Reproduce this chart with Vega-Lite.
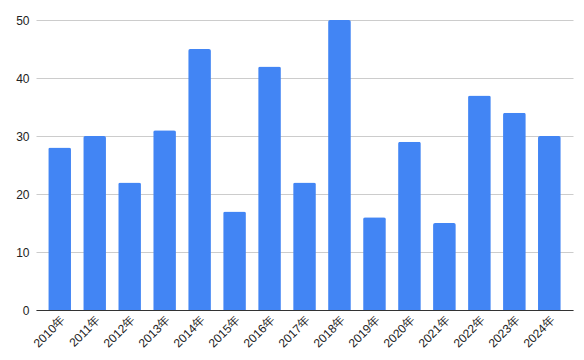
{
  "$schema": "https://vega.github.io/schema/vega-lite/v6.json",
  "autosize": {"type": "none"},
  "padding": {"left": 36, "top": 20, "right": 11, "bottom": 50},
  "width": 537,
  "height": 290,
  "background": "#ffffff",
  "data": {
    "values": [
      {"year": "2010年", "value": 28},
      {"year": "2011年", "value": 30},
      {"year": "2012年", "value": 22},
      {"year": "2013年", "value": 31},
      {"year": "2014年", "value": 45},
      {"year": "2015年", "value": 17},
      {"year": "2016年", "value": 42},
      {"year": "2017年", "value": 22},
      {"year": "2018年", "value": 50},
      {"year": "2019年", "value": 16},
      {"year": "2020年", "value": 29},
      {"year": "2021年", "value": 15},
      {"year": "2022年", "value": 37},
      {"year": "2023年", "value": 34},
      {"year": "2024年", "value": 30}
    ]
  },
  "config": {
    "view": {"stroke": null},
    "font": "Liberation Sans",
    "axis": {"labelFont": "Liberation Sans", "labelFontSize": 12, "labelColor": "#222222"}
  },
  "mark": {"type": "bar", "color": "#4285F4", "cornerRadiusTopLeft": 2, "cornerRadiusTopRight": 2},
  "encoding": {
    "x": {
      "field": "year",
      "type": "nominal",
      "sort": null,
      "scale": {"paddingInner": 0.35, "paddingOuter": 0.35},
      "axis": {
        "title": null,
        "labelAngle": -45,
        "labelAlign": "right",
        "labelBaseline": "top",
        "ticks": false,
        "labelPadding": 4,
        "domainColor": "#333333",
        "domainWidth": 1
      }
    },
    "y": {
      "field": "value",
      "type": "quantitative",
      "scale": {"domain": [0, 50], "nice": false},
      "axis": {
        "title": null,
        "values": [0, 10, 20, 30, 40, 50],
        "domain": false,
        "ticks": false,
        "labelPadding": 7,
        "gridColor": "#cccccc",
        "gridWidth": 1
      }
    }
  }
}
